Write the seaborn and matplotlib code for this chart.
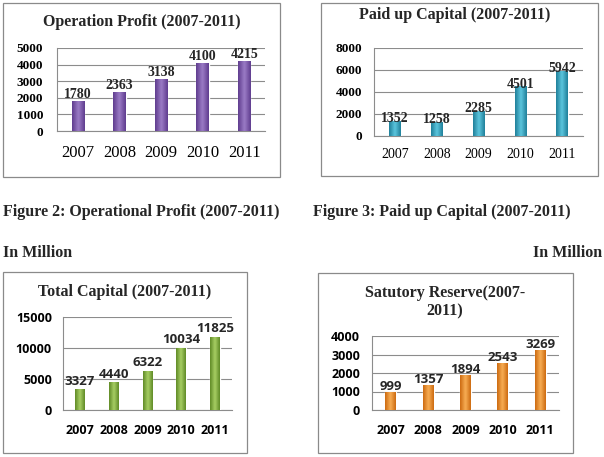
import numpy as np
import pandas as pd
import seaborn as sns
import matplotlib.pyplot as plt
from matplotlib.patches import Rectangle
from matplotlib.colors import LinearSegmentedColormap

years = ["2007", "2008", "2009", "2010", "2011"]
op_profit = [1780, 2363, 3138, 4100, 4215]
paid_capital = [1352, 1258, 2285, 4501, 5942]
total_capital = [3327, 4440, 6322, 10034, 11825]
stat_reserve = [999, 1357, 1894, 2543, 3269]

op_ticks = [0, 1000, 2000, 3000, 4000, 5000]
paid_ticks = [0, 2000, 4000, 6000, 8000]
total_ticks = [0, 5000, 10000, 15000]
reserve_ticks = [0, 1000, 2000, 3000, 4000]

W, H = 604, 457
SERIF = "Liberation Serif"
SANS = "Open Sans"

sns.set_theme(style="white")
plt.rcParams["font.family"] = ["Liberation Serif", "DejaVu Sans"]

fig = plt.figure(figsize=(W / 100, H / 100), dpi=100)
fig.patch.set_facecolor("white")


def px(x, y, w, h):
    return [x / W, 1 - (y + h) / H, w / W, h / H]


def box(x0, y0, x1, y1):
    fig.patches.append(Rectangle((x0 / W, 1 - y1 / H), (x1 - x0) / W, (y1 - y0) / H,
                                 transform=fig.transFigure, fill=False,
                                 edgecolor="#8a8a8a", linewidth=0.9))


def cylinder(ax, dark, light):
    cmap = LinearSegmentedColormap.from_list("c", [dark, light, dark])
    grad = np.linspace(0, 1, 64).reshape(1, -1)
    for p in list(ax.patches):
        x0, y0 = p.get_x(), p.get_y()
        w, h = p.get_width(), p.get_height()
        im = ax.imshow(grad, cmap=cmap, aspect="auto", extent=[x0, x0 + w, y0, y0 + h],
                       zorder=p.get_zorder() + 0.1, interpolation="bicubic")
        im.set_clip_path(p)


def panel(rect, values, ticks, colors, width, tfont, tsize, xsize, xweight, ypad, xpad, lpad):
    ax = fig.add_axes(px(*rect))
    df = pd.DataFrame({"year": years, "value": values})
    sns.barplot(data=df, x="year", y="value", color=colors[0], width=width,
                saturation=1, ax=ax, zorder=3)
    cylinder(ax, colors[0], colors[1])
    ax.set_xlim(-0.5, 4.5)
    ax.set_ylim(ticks[0], ticks[-1])
    ax.set_yticks(ticks)
    ax.set_yticklabels([str(t) for t in ticks], family=tfont, fontweight="bold", fontsize=tsize)
    ax.set_xticks(range(len(years)))
    ax.set_xticklabels(years, family=tfont, fontsize=xsize, fontweight=xweight)
    ax.tick_params(axis="y", length=0, pad=ypad, colors="black")
    ax.tick_params(axis="x", length=0, pad=xpad, colors="black")
    ax.set_xlabel("")
    ax.set_ylabel("")
    ax.yaxis.grid(True, color="#8c8c8c", linewidth=0.8, zorder=0)
    ax.set_axisbelow(True)
    for s in ["top", "right"]:
        ax.spines[s].set_visible(False)
    for s in ["left", "bottom"]:
        ax.spines[s].set_color("#8c8c8c")
        ax.spines[s].set_linewidth(0.8)
    ax.bar_label(ax.containers[0], labels=[str(v) for v in values], padding=lpad,
                 family=tfont, fontweight="bold", fontsize=tsize + 0.5, zorder=5)
    ax.set_facecolor("white")
    return ax


# panel boxes
box(3, 3, 280, 177)
box(321, 3, 598, 176)
box(3, 272, 247, 453)
box(318, 273, 573, 453)

panel((57, 48, 208, 83), op_profit, op_ticks, ("#5f3c8e", "#9b7cc6"), 0.3,
      SERIF, 9.5, 12, "normal", 10, 10, 0)
panel((374, 48, 209, 88), paid_capital, paid_ticks, ("#1f7f99", "#5cc6de"), 0.27,
      SERIF, 9.5, 10, "normal", 8.5, 9, -3)
panel((63, 317, 169, 93), total_capital, total_ticks, ("#5f8a26", "#a8cf64"), 0.29,
      SANS, 9, 9, "bold", 8, 10, 1)
panel((372, 336, 187, 74), stat_reserve, reserve_ticks, ("#cc6a10", "#f8ae55"), 0.29,
      SANS, 9, 9, "bold", 8.5, 10, -1)

# titles
fig.text(142 / W, 1 - 22 / H, "Operation Profit (2007-2011)", family=SERIF,
         fontweight="bold", fontsize=11.5, ha="center", va="center")
fig.text(455 / W, 1 - 15 / H, "Paid up Capital (2007-2011)", family=SERIF,
         fontweight="bold", fontsize=11.5, ha="center", va="center")
fig.text(125 / W, 1 - 292 / H, "Total Capital (2007-2011)", family=SERIF,
         fontweight="bold", fontsize=11.5, ha="center", va="center")
fig.text(445 / W, 1 - 302 / H, "Satutory Reserve(2007-\n2011)", family=SERIF,
         fontweight="bold", fontsize=11.5, ha="center", va="center", linespacing=1.2)

# captions
fig.text(3 / W, 1 - 212 / H, "Figure 2: Operational Profit (2007-2011)", family=SERIF,
         fontweight="bold", fontsize=11.5, ha="left", va="center")
fig.text(313 / W, 1 - 212 / H, "Figure 3: Paid up Capital (2007-2011)", family=SERIF,
         fontweight="bold", fontsize=11.5, ha="left", va="center")
fig.text(3 / W, 1 - 253 / H, "In Million", family=SERIF,
         fontweight="bold", fontsize=11.5, ha="left", va="center")
fig.text(602 / W, 1 - 253 / H, "In Million", family=SERIF,
         fontweight="bold", fontsize=11.5, ha="right", va="center")

fig.savefig("out.png", dpi=100)
